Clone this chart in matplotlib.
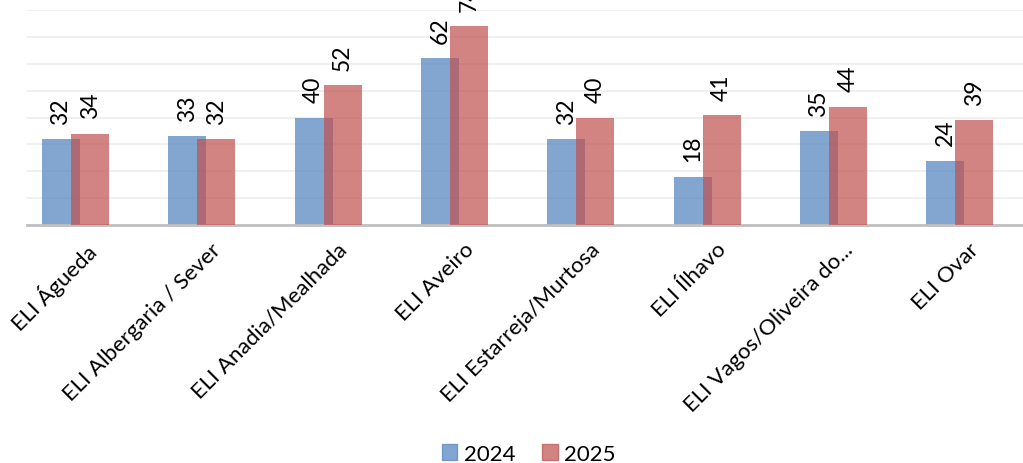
import numpy as np
import matplotlib.pyplot as plt
from matplotlib.patches import Patch

plt.rcParams['font.family'] = ['Lato', 'DejaVu Sans']

# data
categories = ['ELI Águeda', 'ELI Albergaria / Sever', 'ELI Anadia/Mealhada', 'ELI Aveiro',
              'ELI Estarreja/Murtosa', 'ELI Ílhavo', 'ELI Vagos/Oliveira do...', 'ELI Ovar']
values_2024 = [32, 33, 40, 62, 32, 18, 35, 24]
values_2025 = [34, 32, 52, 74, 40, 41, 44, 39]

blue = '#4F81BD'
red = '#C0504D'

fig = plt.figure(figsize=(10.23, 4.64), dpi=100)
ax = fig.add_axes([0.0264, 0.5129, 0.9736, 0.4634])

x = np.arange(len(categories))
w = 0.30
off = 0.115
b1 = ax.bar(x - off, values_2024, w, color=blue, alpha=0.7, zorder=2)
b2 = ax.bar(x + off, values_2025, w, color=red, alpha=0.7, zorder=3)

# value labels, rotated like the original
for bars, vals in ((b1, values_2024), (b2, values_2025)):
    for r, v in zip(bars, vals):
        ax.annotate(str(v), (r.get_x() + r.get_width() / 2, r.get_height()),
                    xytext=(0, 11), textcoords='offset points', rotation=90,
                    ha='center', va='bottom', fontsize=16.5, annotation_clip=False,
                    zorder=5)

ax.set_xlim(-0.384, 7.50)
ax.set_ylim(0, 80)
ax.set_yticks(np.arange(0, 81, 10))
ax.yaxis.grid(True, color='#EDEDED', linewidth=1.2, zorder=0)
ax.set_axisbelow(True)
ax.tick_params(axis='y', left=False, labelleft=False)
ax.tick_params(axis='x', length=0, pad=10)
for s in ['top', 'right', 'left']:
    ax.spines[s].set_visible(False)
ax.spines['bottom'].set_color('#BFBFBF')
ax.spines['bottom'].set_linewidth(2)

ax.set_xticks(x + 0.07)
ax.set_xticklabels(categories, rotation=45, ha='right', va='top',
                   rotation_mode='anchor', fontsize=16)

handles = [Patch(color=blue, alpha=0.7), Patch(color=red, alpha=0.7)]
fig.legend(handles, ['2024', '2025'], loc='lower center', ncol=2, frameon=False,
           fontsize=16, handlelength=0.7, handleheight=0.7, handletextpad=0.3,
           columnspacing=1.2, bbox_to_anchor=(0.517, -0.045))

fig.savefig('out.png', dpi=100)
